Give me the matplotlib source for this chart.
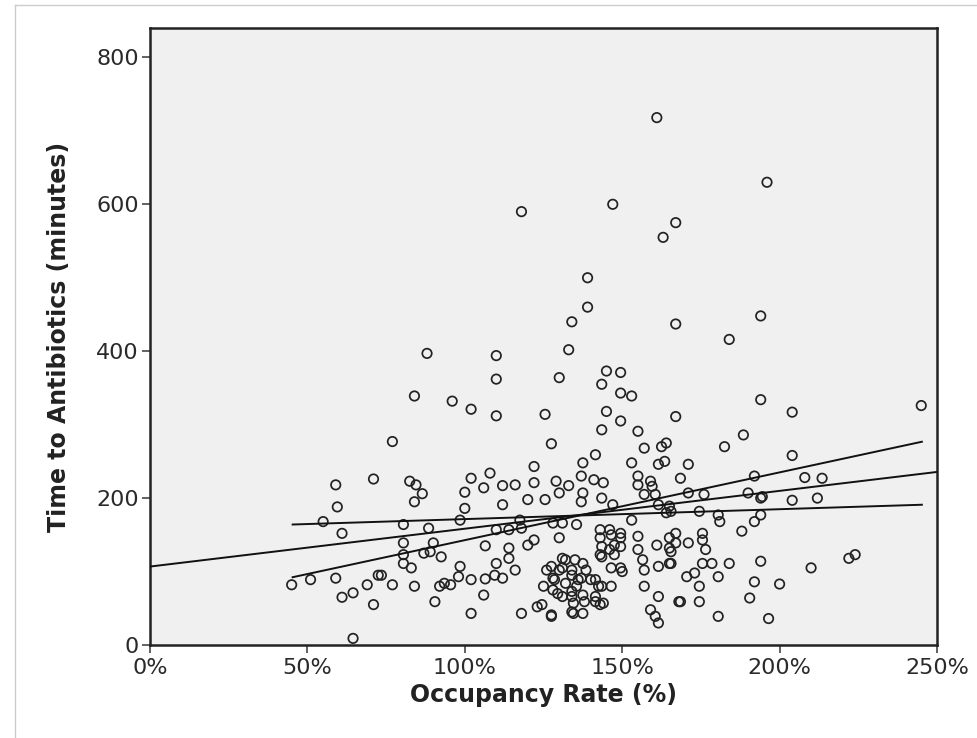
import matplotlib
matplotlib.use("Agg")
import matplotlib.pyplot as plt
from matplotlib.lines import Line2D
from matplotlib.ticker import FuncFormatter

# Occupancy rate (%) and time to antibiotics (minutes), one entry per visit
occupancy_rate = [
    161, 196, 147, 118, 167, 163, 139, 139,
    134, 167, 194, 184, 88, 110, 133, 110,
    130, 84, 96, 102, 110, 125.5, 77, 127.5,
    122, 71, 108, 82.5, 84.5, 86.5, 84, 102,
    100, 106, 112, 116, 122, 129, 130, 133,
    120, 125.5, 112, 100, 98.5, 80.5, 88.5, 110,
    114, 117.5, 118, 128, 131, 130, 122, 120,
    114, 106.5, 80.5, 90, 80.5, 89, 92.5, 87,
    80.5, 83, 73.5, 114, 110, 116, 109.5, 98.5,
    98, 102, 106.5, 112, 93.5, 92, 95.5, 77,
    84, 90.5, 106, 102, 118, 123, 124.5, 127.5,
    126, 128, 125, 132, 130, 134, 128, 132,
    131, 134, 134, 71, 59, 59.5, 55, 61,
    45, 51, 59, 61, 64.5, 69, 72.5, 64.5,
    145, 149.5, 143.5, 149.5, 153, 145, 149.5, 143.5,
    155, 167, 164, 162.5, 157, 141.5, 137.5, 153,
    161.5, 163.5, 137, 141, 144, 155, 159, 155,
    159.5, 168.5, 137.5, 143.5, 137, 147, 157, 160.5,
    161.5, 165, 164, 153, 135.5, 143, 146, 149.5,
    143, 149.5, 155, 143.5, 146, 149.5, 155, 161,
    165, 165, 143.5, 135, 137.5, 146.5, 149.5, 156.5,
    157, 161.5, 165, 134, 137, 135.5, 141.5, 143.5,
    146.5, 157, 161.5, 138, 141.5, 144, 134.5, 159,
    160.5, 161.5, 168, 137.5, 134.5, 143, 146.5, 147.5,
    143, 147.5, 150, 131, 127.5, 131, 138.5, 128.5,
    136, 140, 142.5, 129.5, 134, 137.5, 141.5, 127.5,
    194, 188.5, 182.5, 171, 192, 171, 176, 190,
    194, 165.5, 174.5, 180.5, 181, 194, 192, 188,
    167, 171, 167, 175.5, 175.5, 176.5, 165.5, 165.5,
    175.5, 178.5, 184, 194, 170.5, 173, 180.5, 174.5,
    192, 168.5, 174.5, 190.5, 180.5, 196.5, 204, 245,
    204, 208, 213.5, 194.5, 204, 212, 210, 222,
    224, 200,
]
minutes = [
    718, 630, 600, 590, 575, 555, 500, 460,
    440, 437, 448, 416, 397, 394, 402, 362,
    364, 339, 332, 321, 312, 314, 277, 274,
    243, 226, 234, 223, 218, 206, 195, 227,
    208, 214, 217, 218, 221, 223, 207, 217,
    198, 198, 191, 186, 170, 164, 159, 157,
    157, 170, 159, 166, 166, 146, 143, 136,
    132, 135, 139, 139, 123, 127, 120, 125,
    111, 105, 95, 118, 111, 102, 95, 107,
    93, 89, 90, 91, 84, 80, 82, 82,
    80, 59, 68, 43, 43, 52, 55, 39,
    102, 91, 80, 116, 102, 102, 75, 84,
    66, 66, 45, 55, 218, 188, 168, 152,
    82, 89, 91, 65, 71, 82, 95, 9,
    373, 371, 355, 343, 339, 318, 305, 293,
    291, 311, 275, 270, 268, 259, 248, 248,
    246, 250, 230, 225, 221, 230, 223, 218,
    216, 227, 207, 200, 195, 191, 205, 205,
    191, 189, 180, 170, 164, 157, 157, 152,
    146, 146, 148, 134, 130, 134, 130, 136,
    146, 132, 120, 116, 111, 105, 105, 116,
    102, 107, 111, 95, 91, 80, 89, 80,
    80, 80, 66, 59, 59, 57, 57, 48,
    39, 30, 59, 43, 43, 55, 150, 136,
    123, 123, 100, 118, 107, 105, 102, 89,
    89, 89, 80, 70, 73, 68, 66, 41,
    334, 286, 270, 246, 230, 207, 205, 207,
    200, 182, 182, 177, 168, 177, 168, 155,
    152, 139, 139, 152, 143, 130, 127, 111,
    111, 111, 111, 114, 93, 98, 93, 80,
    86, 59, 59, 64, 39, 36, 317, 326,
    258, 228, 227, 202, 197, 200, 105, 118,
    123, 83,
]

# Overall linear fit across the full axis range
fit_x = [0, 250]
fit_y = [106.8, 235.6]
# Two further straight lines spanning the observed occupancy range
line_a_x = [45, 245.5]
line_a_y = [164, 191]
line_b_x = [45, 245.5]
line_b_y = [92, 277]

x_ticks = [0, 50, 100, 150, 200, 250]
y_ticks = [0, 200, 400, 600, 800]

plt.rcParams["font.family"] = ["DejaVu Sans"]

fig = plt.figure(figsize=(9.78, 7.38), dpi=100)
ax = fig.add_axes([150 / 978, 93 / 738, 787 / 978, 617 / 738])
ax.set_facecolor("#f0f0f0")

ink = "#222222"
ax.scatter(occupancy_rate, minutes, s=46, facecolors="none",
           edgecolors=ink, linewidths=1.25, zorder=3)

for xs, ys in ((fit_x, fit_y), (line_a_x, line_a_y), (line_b_x, line_b_y)):
    ax.plot(xs, ys, color="#111111", lw=1.4, zorder=4,
            solid_capstyle="butt")

ax.set_xlim(0, 250)
ax.set_ylim(0, 840)
ax.set_xticks(x_ticks)
ax.set_yticks(y_ticks)
ax.xaxis.set_major_formatter(FuncFormatter(lambda v, p: f"{v:.0f}%"))

for side in ("left", "right", "top", "bottom"):
    ax.spines[side].set_linewidth(1.8)
    ax.spines[side].set_color(ink)

ax.tick_params(axis="both", direction="out", length=6, width=1.3,
               color="#555555", labelsize=16, labelcolor="#2a2a2a")
ax.tick_params(axis="x", pad=3)
ax.tick_params(axis="y", pad=2)

ax.set_xlabel("Occupancy Rate (%)", fontsize=17, fontweight="bold",
              color=ink, labelpad=4)
ax.set_ylabel("Time to Antibiotics (minutes)", fontsize=17,
              fontweight="bold", color=ink, labelpad=18)

# thin grey frame along the left and top of the figure
fig.add_artist(Line2D([15 / 978, 15 / 978], [0, 1 - 5 / 738],
                      transform=fig.transFigure, color="#cccccc", lw=1))
fig.add_artist(Line2D([15 / 978, 1], [1 - 5 / 738, 1 - 5 / 738],
                      transform=fig.transFigure, color="#cccccc", lw=1))

fig.savefig("out.png", dpi=100)
